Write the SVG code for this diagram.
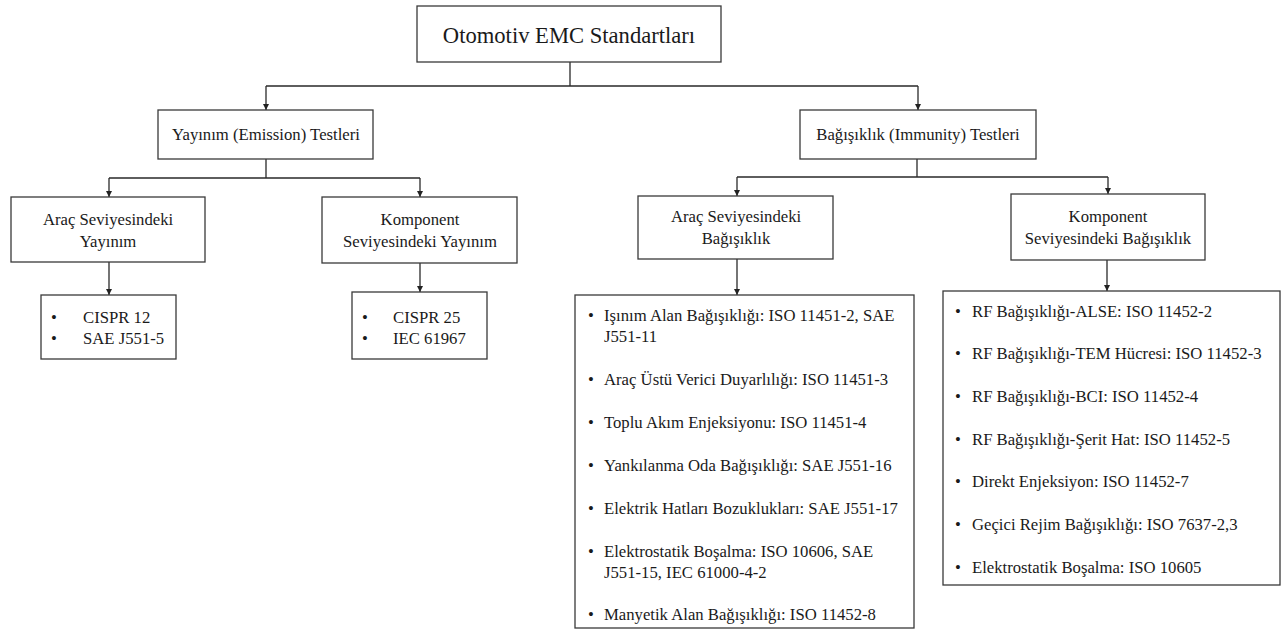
<svg xmlns="http://www.w3.org/2000/svg" width="1283" height="639" viewBox="0 0 1283 639">
<defs>
<marker id="arr" viewBox="0 0 10 10" refX="10" refY="5" markerWidth="6" markerHeight="7" markerUnits="userSpaceOnUse" orient="auto">
<path d="M0,0 L10,5 L0,10 Z" fill="#222"/>
</marker>
<style>
.box{fill:#fff;stroke:#3a3a3a;stroke-width:1.3}
.t{font-family:'Liberation Serif',Tinos,'Times New Roman',Times,'Noto Serif','DejaVu Serif',serif;font-size:16.7px;fill:#1a1a1a}
.c{text-anchor:middle}
.big{font-size:22.6px}
.ln{fill:none;stroke:#2a2a2a;stroke-width:1.3}
</style>
</defs>
<rect width="1283" height="639" fill="#fff"/>
<g id="connectors">
<path class="ln" d="M570,62 V86 M266,86 H918"/>
<path class="ln" d="M266,86 V110" marker-end="url(#arr)"/>
<path class="ln" d="M918,86 V110" marker-end="url(#arr)"/>
<path class="ln" d="M266,159 V178 M109,178 H420"/>
<path class="ln" d="M109,178 V197" marker-end="url(#arr)"/>
<path class="ln" d="M420,178 V197" marker-end="url(#arr)"/>
<path class="ln" d="M109,262 V295" marker-end="url(#arr)"/>
<path class="ln" d="M420,263 V292" marker-end="url(#arr)"/>
<path class="ln" d="M917,159 V177 M737,177 H1108"/>
<path class="ln" d="M737,177 V196" marker-end="url(#arr)"/>
<path class="ln" d="M1108,177 V194" marker-end="url(#arr)"/>
<path class="ln" d="M737,259 V295" marker-end="url(#arr)"/>
<path class="ln" d="M1107,260 V291" marker-end="url(#arr)"/>
</g>
<g id="root">
<rect class="box" x="417" y="6" width="304" height="56"/>
<text class="t c big" x="569" y="43" font-family="Liberation Serif, serif">Otomotiv EMC Standartları</text>
</g>
<g id="emission">
<rect class="box" x="158" y="110" width="215" height="49"/>
<text class="t c" x="266" y="140">Yayınım (Emission) Testleri</text>
</g>
<g id="immunity">
<rect class="box" x="800" y="110" width="236" height="49"/>
<text class="t c" x="918" y="140">Bağışıklık (Immunity) Testleri</text>
</g>
<g id="vehicle-emission">
<rect class="box" x="11" y="197" width="194" height="65"/>
<text class="t c" x="108" y="225">Araç Seviyesindeki</text>
<text class="t c" x="108" y="247">Yayınım</text>
</g>
<g id="component-emission">
<rect class="box" x="322" y="197" width="195" height="66"/>
<text class="t c" x="420" y="225">Komponent</text>
<text class="t c" x="420" y="247">Seviyesindeki Yayınım</text>
</g>
<g id="vehicle-immunity">
<rect class="box" x="638" y="196" width="195" height="63"/>
<text class="t c" x="736" y="222">Araç Seviyesindeki</text>
<text class="t c" x="736" y="244">Bağışıklık</text>
</g>
<g id="component-immunity">
<rect class="box" x="1011" y="194" width="194" height="66"/>
<text class="t c" x="1108" y="222">Komponent</text>
<text class="t c" x="1108" y="244">Seviyesindeki Bağışıklık</text>
</g>
<g id="vehicle-emission-list">
<rect class="box" x="41" y="295" width="135" height="64"/>
<text class="t c" x="54" y="322.5">•</text>
<text class="t" x="83" y="322.5">CISPR 12</text>
<text class="t c" x="54" y="344">•</text>
<text class="t" x="83" y="344">SAE J551-5</text>
</g>
<g id="component-emission-list">
<rect class="box" x="352" y="292" width="135" height="67"/>
<text class="t c" x="365" y="322.5">•</text>
<text class="t" x="393" y="322.5">CISPR 25</text>
<text class="t c" x="365" y="344">•</text>
<text class="t" x="393" y="344">IEC 61967</text>
</g>
<g id="vehicle-immunity-list">
<rect class="box" x="575" y="295" width="339" height="333"/>
<g class="t">
<text class="c" x="591" y="320.5">•</text>
<text x="604" y="320.5">Işınım Alan Bağışıklığı: ISO 11451-2, SAE</text>
<text x="604" y="342">J551-11</text>
<text class="c" x="591" y="384.5">•</text>
<text x="604" y="384.5">Araç Üstü Verici Duyarlılığı: ISO 11451-3</text>
<text class="c" x="591" y="427.5">•</text>
<text x="604" y="427.5">Toplu Akım Enjeksiyonu: ISO 11451-4</text>
<text class="c" x="591" y="470.5">•</text>
<text x="604" y="470.5">Yankılanma Oda Bağışıklığı: SAE J551-16</text>
<text class="c" x="591" y="513.5">•</text>
<text x="604" y="513.5">Elektrik Hatları Bozuklukları: SAE J551-17</text>
<text class="c" x="591" y="556.5">•</text>
<text x="604" y="556.5">Elektrostatik Boşalma: ISO 10606, SAE</text>
<text x="604" y="578">J551-15, IEC 61000-4-2</text>
<text class="c" x="591" y="620">•</text>
<text x="604" y="620">Manyetik Alan Bağışıklığı: ISO 11452-8</text>
</g>
</g>
<g id="component-immunity-list">
<rect class="box" x="943" y="291" width="337" height="294"/>
<g class="t">
<text class="c" x="958" y="316.5">•</text>
<text x="972" y="316.5">RF Bağışıklığı-ALSE: ISO 11452-2</text>
<text class="c" x="958" y="359.2">•</text>
<text x="972" y="359.2">RF Bağışıklığı-TEM Hücresi: ISO 11452-3</text>
<text class="c" x="958" y="401.9">•</text>
<text x="972" y="401.9">RF Bağışıklığı-BCI: ISO 11452-4</text>
<text class="c" x="958" y="444.6">•</text>
<text x="972" y="444.6">RF Bağışıklığı-Şerit Hat: ISO 11452-5</text>
<text class="c" x="958" y="487.3">•</text>
<text x="972" y="487.3">Direkt Enjeksiyon: ISO 11452-7</text>
<text class="c" x="958" y="530">•</text>
<text x="972" y="530">Geçici Rejim Bağışıklığı: ISO 7637-2,3</text>
<text class="c" x="958" y="572.7">•</text>
<text x="972" y="572.7">Elektrostatik Boşalma: ISO 10605</text>
</g>
</g>
</svg>
